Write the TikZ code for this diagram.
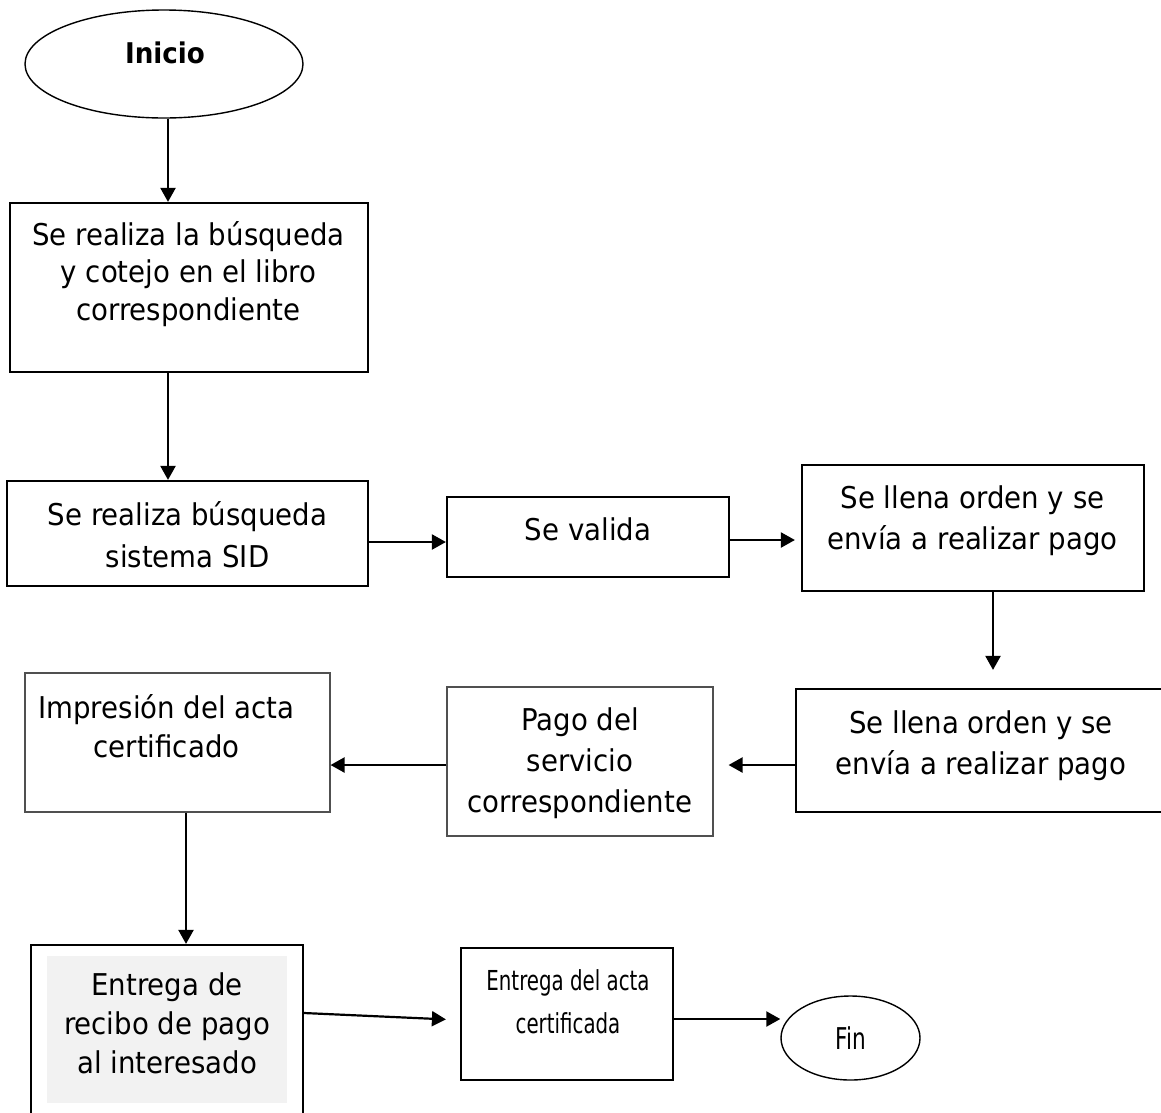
\documentclass[tikz,border=0pt]{standalone}
\usepackage{fontspec}
\setmainfont[FakeStretch=0.92]{DejaVu Sans}
\newfontfamily\narrowfont[FakeStretch=0.72]{DejaVu Sans}
\usetikzlibrary{
  arrows.meta,
  positioning,
  shapes.geometric
}
\definecolor{recibofill}{RGB}{242,242,242}
\definecolor{thinline}{RGB}{80,80,80}

\begin{document}
\begin{tikzpicture}[
  x=1pt, y=-1pt,
  every node/.style={font=\fontsize{30}{41}\selectfont},
  box/.style={draw, line width=2.2pt, inner sep=0pt},
  thinbox/.style={draw=thinline, line width=1.1pt, inner sep=0pt},
  oval/.style={draw, ellipse, line width=1.4pt, inner sep=0pt},
  txt/.style={align=center, anchor=base, inner sep=0pt},
  flow/.style={-{Triangle[length=14pt,width=15pt]}, line width=2.2pt}
]
\useasboundingbox (0,0) rectangle (1161,1112);
\clip (0,0) rectangle (1161,1112);

% Shapes
\node[oval, minimum width=278pt, minimum height=108pt] (inicio) at (164, 64) {};
\node[box, minimum width=358pt, minimum height=169pt] (busq) at (189, 287.5) {};
\node[box, minimum width=361pt, minimum height=105pt] (sid) at (187.5, 533.5) {};
\node[box, minimum width=282pt, minimum height=80pt] (valida) at (588, 537) {};
\node[box, minimum width=342pt, minimum height=126pt] (orden) at (973, 528) {};
\node[box, minimum width=379pt, minimum height=123pt] (orden2) at (985.5, 750.5) {};
\node[thinbox, minimum width=266pt, minimum height=149pt] (pago) at (580, 761.5) {};
\node[thinbox, minimum width=305pt, minimum height=139pt] (impr) at (177.5, 742.5) {};
\node[box, minimum width=272pt, minimum height=190pt] (recibo) at (167, 1040) {};
\fill[recibofill] (47,956) rectangle (287,1103);
\node[box, minimum width=212pt, minimum height=132pt] (entrega) at (567, 1014) {};
\node[oval, minimum width=139pt, minimum height=84pt] (fin) at (850.5, 1038) {};

% Texts (anchored at the baseline of the last line)
\node[txt, font=\fontsize{28.5}{34}\selectfont\bfseries] (inicio-t) at (165, 63) {Inicio};
\node[txt, font=\fontsize{30}{37.5}\selectfont] (busq-t) at (188.5, 320)
  {Se realiza la búsqueda\\y cotejo en el libro\\correspondiente};
\node[txt, font=\fontsize{30}{42}\selectfont] (sid-t) at (187.5, 567) {Se realiza búsqueda\\sistema SID};
\node[txt] (valida-t) at (588, 540) {Se valida};
\node[txt] (orden-t) at (972.5, 549) {Se llena orden y se\\envía a realizar pago};
\node[txt] (orden2-t) at (981, 774) {Se llena orden y se\\envía a realizar pago};
\node[txt] (pago-t) at (580, 812) {Pago del\\servicio\\correspondiente};
\node[txt, font=\fontsize{30}{39.5}\selectfont] (impr-t) at (166.5, 757.5)
  {Impresión del acta\\certificado};
\node[txt, font=\fontsize{30}{39}\selectfont] (recibo-t) at (167, 1073)
  {Entrega de\\recibo de pago\\al interesado};
\node[txt, font=\fontsize{27.5}{43}\selectfont\narrowfont] (entrega-t) at (568, 1033)
  {Entrega del acta\\certificada};
\node[txt, font=\fontsize{30}{36}\selectfont\narrowfont] (fin-t) at (851, 1049) {Fin};

% Connectors
\draw[flow] ([xshift=4pt]inicio.south) -- ([xshift=4pt]inicio.south |- busq.north);
\draw[flow] ([xshift=-21pt]busq.south) -- ([xshift=-21pt]busq.south |- sid.north);
\draw[flow] ([yshift=-8.5pt]sid.east) -- ([yshift=-8.5pt]sid.east -| valida.west);
\draw[flow, shorten >=6pt] ([yshift=-3pt]valida.east) -- ([yshift=-3pt]valida.east -| orden.west);
\draw[flow, shorten >=18pt] ([xshift=20pt]orden.south) -- ([xshift=20pt]orden.south |- orden2.north);
\draw[flow, shorten >=15pt] ([yshift=-14.5pt]orden2.west) -- ([yshift=-14.5pt]orden2.west -| pago.east);
\draw[flow] ([yshift=-3.5pt]pago.west) -- ([yshift=-3.5pt]pago.west -| impr.east);
\draw[flow] ([xshift=8.5pt]impr.south) -- ([xshift=8.5pt]impr.south |- recibo.north);
\draw[flow, shorten >=14pt] ([yshift=27pt]recibo.east) -- ([yshift=-6pt]entrega.west);
\draw[flow] ([yshift=-5pt]entrega.east) -- ([yshift=-5pt]entrega.east -| fin.west);

\end{tikzpicture}
\end{document}
